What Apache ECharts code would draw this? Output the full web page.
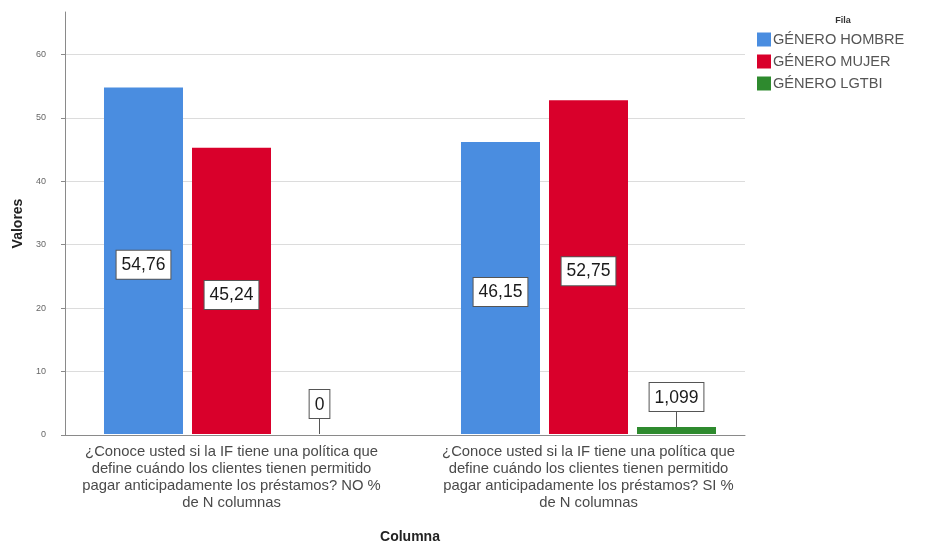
<!DOCTYPE html>
<html>
<head>
<meta charset="utf-8">
<script src="https://cdn.jsdelivr.net/npm/echarts@6/dist/echarts.min.js"></script>
<style>
  html, body { margin: 0; padding: 0; background: #fff; }
  #chart { width: 933px; height: 549px; }
</style>
</head>
<body>
<div id="chart"></div>
<script>
// Categories (question answer groups) and per-gender percentages
const categories = [
  '¿Conoce usted si la IF tiene una política que\ndefine cuándo los clientes tienen permitido\npagar anticipadamente los préstamos? NO %\nde N columnas',
  '¿Conoce usted si la IF tiene una política que\ndefine cuándo los clientes tienen permitido\npagar anticipadamente los préstamos? SI %\nde N columnas'
];
const seriesNames = ['GÉNERO HOMBRE', 'GÉNERO MUJER', 'GÉNERO LGTBI'];
const hombre = [54.76, 46.15];
const mujer = [45.24, 52.75];
const lgtbi = [0, 1.099];
const yTicks = [0, 10, 20, 30, 40, 50, 60];

const colors = ['#4a8de0', '#d9002b', '#2e8a2e'];
const Y_MAX = 66.7;

const fmt = v => String(v).replace('.', ',');

const boxLabel = {
  show: true,
  position: 'inside',
  offset: [0, 4],
  formatter: p => fmt(p.value),
  color: '#1a1a1a',
  fontFamily: 'Liberation Sans, Arial, sans-serif',
  fontSize: 17.5,
  backgroundColor: '#ffffff',
  borderColor: '#555',
  borderWidth: 1,
  padding: [6, 5, 4, 5]
};

const chart = echarts.init(document.getElementById('chart'), null, { renderer: 'canvas' });

// one colour per split line; the line at the axis maximum stays invisible
const gridLines = yTicks.map(() => '#dcdcdc').concat(['rgba(0,0,0,0)']);

chart.setOption({
  animation: false,
  textStyle: { fontFamily: 'Liberation Sans, Arial, sans-serif' },
  title: {
    text: 'Fila',
    left: 838,
    top: 11,
    textAlign: 'center',
    textStyle: { fontSize: 9, fontWeight: 'bold', color: '#333' }
  },
  legend: {
    orient: 'vertical',
    left: 757,
    top: 32,
    icon: 'rect',
    itemWidth: 14,
    itemHeight: 14,
    itemGap: 7,
    padding: 0,
    textStyle: { fontSize: 14.6, color: '#555', padding: [0, 0, 0, -3] },
    data: seriesNames
  },
  grid: [
    { left: 65, right: 188, top: 12, bottom: 114 },
    { left: 53, width: 714, top: 12, bottom: 114 }
  ],
  xAxis: [
    {
      gridIndex: 0,
      type: 'category',
      data: categories,
      axisLine: { show: true, lineStyle: { color: '#8a8a8a', width: 1 } },
      axisTick: { show: false },
      axisLabel: { show: false }
    },
    {
      gridIndex: 1,
      type: 'category',
      data: categories,
      axisLine: { show: false },
      axisTick: { show: false },
      axisLabel: {
        show: true,
        interval: 0,
        hideOverlap: false,
        margin: 9,
        fontSize: 14.8,
        lineHeight: 17,
        color: '#4a4a4a',
        align: 'center'
      },
      name: 'Columna',
      nameLocation: 'middle',
      nameGap: 96,
      nameTextStyle: { fontSize: 14, fontWeight: 'bold', color: '#222' }
    }
  ],
  yAxis: [
    {
      gridIndex: 0,
      type: 'value',
      min: 0,
      max: Y_MAX,
      interval: 10,
      axisLine: { show: true, lineStyle: { color: '#8a8a8a', width: 1 } },
      axisTick: { show: true, length: 4, lineStyle: { color: '#8a8a8a' } },
      axisLabel: {
        fontSize: 9,
        color: '#666',
        margin: 19,
        showMaxLabel: false,
        formatter: v => (yTicks.indexOf(v) >= 0 ? String(v) : '')
      },
      splitLine: { show: true, lineStyle: { color: gridLines, width: 1 } },
      name: 'Valores',
      nameLocation: 'middle',
      nameGap: 38,
      nameRotate: 90,
      nameTextStyle: { fontSize: 14, fontWeight: 'bold', color: '#222' }
    },
    {
      gridIndex: 1,
      type: 'value',
      min: 0,
      max: Y_MAX,
      show: false
    }
  ],
  series: [
    {
      name: seriesNames[0],
      type: 'bar',
      xAxisIndex: 1,
      yAxisIndex: 1,
      data: hombre,
      barWidth: 79,
      barGap: '11.4%',
      itemStyle: { color: colors[0] },
      label: boxLabel
    },
    {
      name: seriesNames[1],
      type: 'bar',
      xAxisIndex: 1,
      yAxisIndex: 1,
      data: mujer,
      barWidth: 79,
      barGap: '11.4%',
      itemStyle: { color: colors[1] },
      label: boxLabel
    },
    {
      name: seriesNames[2],
      type: 'bar',
      xAxisIndex: 1,
      yAxisIndex: 1,
      data: lgtbi,
      barWidth: 79,
      barGap: '11.4%',
      itemStyle: { color: colors[2] },
      label: Object.assign({}, boxLabel, { position: 'top', distance: 0, offset: [0, 0] }),
      labelLayout: { dy: -16 },
      labelLine: { show: true, lineStyle: { color: '#555', width: 1 } }
    }
  ]
});
</script>
</body>
</html>
